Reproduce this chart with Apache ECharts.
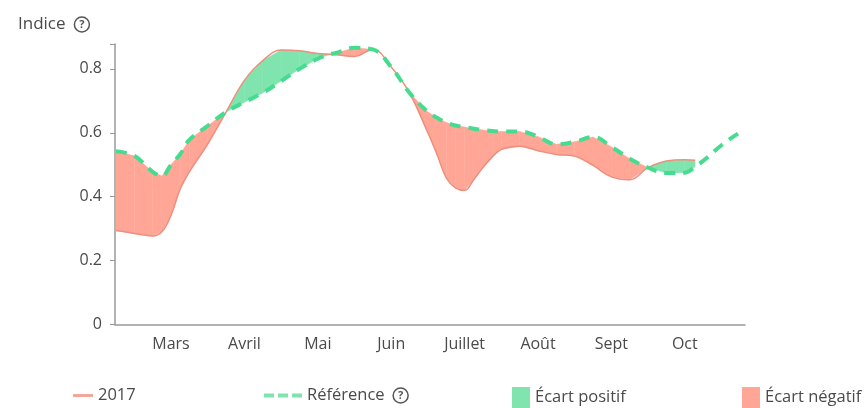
<!DOCTYPE html>
<html>
<head>
<meta charset="utf-8">
<style>html,body{margin:0;padding:0;background:#fff}#chart{width:868px;height:408px}</style>
<script src="https://cdn.jsdelivr.net/npm/echarts@6/dist/echarts.min.js"></script>
</head>
<body>
<div id="chart"></div>
<script>
// months counted from Mars = 0
var months = [-0.75,-0.5,-0.25,-0.125,0,0.125,0.25,0.5,0.75,1,1.25,1.5,1.75,2,2.17,2.25,2.5,2.75,3,3.25,3.5,3.625,3.75,3.875,4,4.125,4.25,4.375,4.5,4.75,5,5.25,5.5,5.75,6,6.25,6.5,6.75,7,7.14,7.25,7.5,7.75,7.82];
var values2017 = [.294,.285,.277,.29,.342,.424,.478,.565,.665,.764,.826,.859,.857,.848,.846,.844,.839,.861,.806,.725,.6,.532,.459,.428,.42,.454,.491,.524,.548,.558,.544,.532,.527,.498,.462,.453,.491,.512,.516,.514,null,null,null,null];
var valuesRef = [.542,.528,.478,.465,.5,.533,.578,.622,.665,.696,.725,.762,.8,.832,.846,.85,.866,.861,.806,.725,.665,.647,.632,.623,.618,.613,.609,.606,.604,.604,.588,.564,.572,.587,.556,.519,.491,.474,.475,.494,.512,.561,.601,.607];
var monthLabels = ['Mars','Avril','Mai','Juin','Juillet','Août','Sept','Oct'];
var monthTicks = [0,1,2,3,4,5,6,7];
var yTicks = [0,0.2,0.4,0.6,0.8,0.878];
var yLabels = [0,0.2,0.4,0.6,0.8];

var FONT = 'Open Sans';
var GREY = '#4a4a4a';
var DASH_ICON = 'path://M0,0H10V4H0Z M14,0H24V4H14Z M28,0H38V4H28Z';
var helpRich = {
	q: {width: 15, height: 15, lineHeight: 15, align: 'center', borderColor: '#555', borderWidth: 1.5, borderRadius: 9, fontSize: 11, fontWeight: 'bold', color: '#555', fontFamily: FONT}
};

var rows = months.map(function(m, i){
	return [m, values2017[i], valuesRef[i]];
});

// fills the gap between both curves, interval by interval, on one side only
function gapItem(sign){
	return function(params, api){
		var i = params.dataIndex;
		if(i + 1 >= rows.length) return;
		var a = rows[i], b = rows[i + 1];
		if(a[1] === null || b[1] === null) return;
		if(((a[1] - a[2]) + (b[1] - b[2])) * sign <= 0) return;
		return {
			type: 'polygon',
			shape: {points: [
				api.coord([a[0], a[1]]),
				api.coord([b[0], b[1]]),
				api.coord([b[0], b[2]]),
				api.coord([a[0], a[2]])
			]},
			style: {fill: api.visual('color'), stroke: api.visual('color'), lineWidth: 0.5}
		};
	};
}

function oneLegend(name, left, icon, w, h, color, fmt){
	var o = {
		data: [{name: name, icon: icon, itemStyle: {color: color}}],
		left: left,
		top: 382,
		itemWidth: w,
		itemHeight: h,
		textStyle: {fontFamily: FONT, fontSize: 16.5, color: GREY, rich: helpRich}
	};
	if(fmt) o.formatter = fmt;
	return o;
}

var chart = echarts.init(document.getElementById('chart'), null, {renderer: 'canvas'});
chart.setOption({
	animation: false,
	backgroundColor: '#fff',
	title: {
		text: 'Indice  {q|?}',
		left: 18,
		top: 16,
		padding: 0,
		textStyle: {fontFamily: FONT, fontSize: 17, fontWeight: 'normal', color: GREY, rich: helpRich}
	},
	grid: {left: 115, right: 123, top: 44, bottom: 83.5},
	legend: [
		oneLegend('2017', 68, 'rect', 20, 3, '#f2a79a'),
		oneLegend('Référence', 259, DASH_ICON, 38, 4, '#7fe3ae', 'Référence  {q|?}'),
		oneLegend('Écart positif', 507, 'rect', 18, 21, '#80e4ae'),
		oneLegend('Écart négatif', 737, 'rect', 18, 21, '#ffa696')
	],
	xAxis: {
		type: 'value',
		min: -0.763,
		max: 7.82,
		splitLine: {show: false},
		axisLine: {onZero: false, lineStyle: {color: '#999', width: 1.5}},
		axisTick: {show: false},
		axisLabel: {
			customValues: monthTicks,
			margin: 12,
			fontFamily: FONT,
			fontSize: 16,
			color: GREY,
			formatter: function(v){ return monthLabels[Math.round(v)]; }
		}
	},
	yAxis: {
		type: 'value',
		min: 0,
		max: 0.878,
		splitLine: {show: false},
		axisLine: {show: true, onZero: false, lineStyle: {color: '#999', width: 1.5}},
		axisTick: {show: true, customValues: yTicks, length: 5, lineStyle: {color: '#999'}},
		axisLabel: {
			customValues: yLabels,
			margin: 13,
			fontFamily: FONT,
			fontSize: 16,
			color: GREY
		}
	},
	series: [
		{name: 'Écart positif', type: 'custom', data: rows, itemStyle: {color: '#80e4ae'}, renderItem: gapItem(1), z: 1, encode: {x: 0, y: 1}},
		{name: 'Écart négatif', type: 'custom', data: rows, itemStyle: {color: '#ffa696'}, renderItem: gapItem(-1), z: 1, encode: {x: 0, y: 1}},
		{
			name: '2017',
			type: 'line',
			data: rows.map(function(r){ return [r[0], r[1]]; }),
			symbol: 'none',
			smooth: 0.4,
			itemStyle: {color: '#f19a8a'},
			lineStyle: {color: '#ee8f7e', width: 1.5},
			z: 2
		},
		{
			name: 'Référence',
			type: 'line',
			data: rows.map(function(r){ return [r[0], r[2]]; }),
			symbol: 'none',
			smooth: 0.4,
			itemStyle: {color: '#46dc90'},
			lineStyle: {color: '#46dc90', width: 4, type: [11, 8]},
			z: 3
		}
	]
});
</script>
</body>
</html>
